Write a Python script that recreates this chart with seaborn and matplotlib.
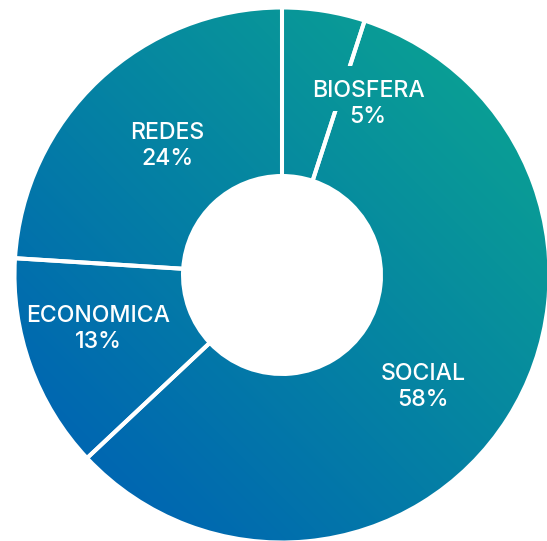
import numpy as np
import matplotlib
matplotlib.use("Agg")
import matplotlib.pyplot as plt
import seaborn as sns
from matplotlib.patches import Rectangle

# Share of each dimension (percent), clockwise from the top
categories = ["BIOSFERA", "SOCIAL", "ECONOMICA", "REDES"]
shares = [5, 58, 13, 24]
pct_labels = [f"{v}%" for v in shares]

# Label anchors in pixel coords: (x centre, baseline of name, baseline of percent)
label_anchor = [(368, 97, 123), (423, 379.5, 405.5), (98.5, 321.5, 348), (167.5, 139, 165)]

W, H = 547, 541
sns.set_style("white")
plt.rcParams["font.family"] = ["Inter", "DejaVu Sans"]

fig = plt.figure(figsize=(W / 100, H / 100), dpi=100)
ax = fig.add_axes([0, 0, 1, 1])

cx, cy = 282, H - 275
R_out, R_in = 267.5, 99
edge_lw = 2.9

wedges, _ = ax.pie(
    shares, radius=R_out, center=(cx, cy), startangle=90, counterclock=False,
    wedgeprops=dict(width=R_out - R_in, facecolor="none", edgecolor="white",
                    linewidth=edge_lw, zorder=3),
)

# Diagonal gradient: deep blue at the lower left, teal at the upper right
cmap = sns.blend_palette(["#0067B1", "#0A9E95"], as_cmap=True)
xx, yy = np.meshgrid(np.arange(W) + 0.5, np.arange(H) + 0.5)
s = ((xx - cx) + (yy - cy)) / np.sqrt(2)
t = np.clip((s + 262) / (262 + 268), 0, 1)
grad = cmap(t)

for w in wedges:
    im = ax.imshow(grad, extent=(0, W, 0, H), origin="lower", zorder=1,
                   interpolation="bilinear")
    im.set_clip_path(w)

# Gradient patch behind the BIOSFERA name so the separator stops around it
knock = Rectangle((300, H - 111), 100, 45, transform=ax.transData)
im = ax.imshow(grad, extent=(0, W, 0, H), origin="lower", zorder=4,
               interpolation="bilinear")
im.set_clip_path(knock)

for name, pct, (x, yb1, yb2) in zip(categories, pct_labels, label_anchor):
    ax.text(x, H - yb1, name, color="white", fontsize=16.6, fontweight="medium",
            ha="center", va="baseline", zorder=5)
    ax.text(x, H - yb2, pct, color="white", fontsize=16.6, fontweight="medium",
            ha="center", va="baseline", zorder=5)

ax.set_xlim(0, W)
ax.set_ylim(0, H)
ax.set_aspect("equal")
ax.axis("off")

fig.savefig("out.png", dpi=100, facecolor="white")
